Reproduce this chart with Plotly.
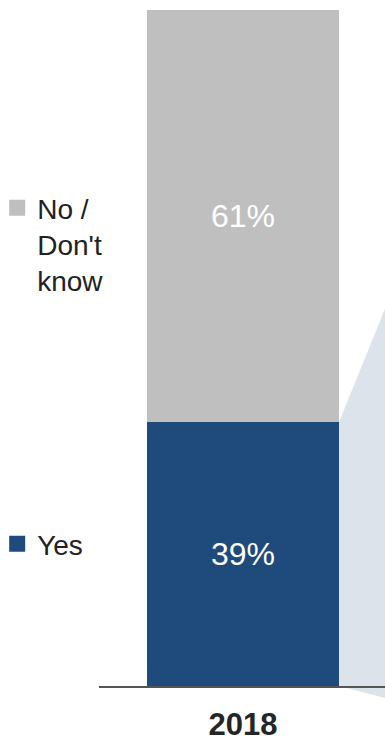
import plotly.graph_objects as go

# ---- data ----
years = ["2018"]
yes_vals = [39]
no_vals = [61]
yes_labels = ["39%"]
no_labels = ["61%"]
series_names = ["Yes", "No /<br>Don't<br>know"]

GRAY = "#bfbfbf"
BLUE = "#1f4a7c"
SHADE = "#dce3ea"
FONT = "Liberation Sans, Arial, sans-serif"

bar_width = 0.671
x_range = [-0.5035, 0.4965]

fig = go.Figure()
fig.add_trace(go.Bar(
    x=years, y=yes_vals, text=yes_labels, width=bar_width,
    marker=dict(color=BLUE, line=dict(width=0)),
    textposition="inside", insidetextanchor="middle",
    textfont=dict(color="white", size=32, family=FONT),
    showlegend=False, hoverinfo="skip",
))
fig.add_trace(go.Bar(
    x=years, y=no_vals, text=no_labels, width=bar_width,
    marker=dict(color=GRAY, line=dict(width=0)),
    textposition="inside", insidetextanchor="middle",
    textfont=dict(color="white", size=32, family=FONT),
    showlegend=False, hoverinfo="skip",
))
# legend entries (square markers)
fig.add_trace(go.Scatter(
    x=[None], y=[None], mode="markers", name=series_names[1],
    marker=dict(symbol="square", size=16, color=GRAY), legend="legend",
))
fig.add_trace(go.Scatter(
    x=[None], y=[None], mode="markers", name=series_names[0],
    marker=dict(symbol="square", size=16, color=BLUE), legend="legend2",
))

# shaded callout polygon starting at the bar's right edge / split point
bar_right = 0 + bar_width / 2
px = (bar_right - x_range[0]) / (x_range[1] - x_range[0])
py = yes_vals[0] / 100
path = f"M {px},{py} L 1,0.558 L 1,-0.0178 L {px},0 Z"
fig.add_shape(type="path", path=path, xref="paper", yref="paper",
              fillcolor=SHADE, line=dict(width=0), layer="below")

fig.update_layout(
    width=385, height=741,
    margin=dict(l=99, r=0, t=10, b=55, autoexpand=False),
    barmode="stack",
    paper_bgcolor="white", plot_bgcolor="rgba(0,0,0,0)",
    font=dict(family=FONT, color="#222222"),
    xaxis=dict(type="category", range=x_range, showgrid=False, zeroline=False,
               showline=True, linecolor="#555555", linewidth=1.5,
               tickvals=years, ticktext=[f"<b>{y}</b>" for y in years],
               tickfont=dict(size=31, color="#262626", family=FONT),
               ticks="", ticklabelstandoff=10, automargin=False),
    yaxis=dict(range=[0, 100], visible=False),
    legend=dict(x=-0.356, xanchor="left", y=0.744, yanchor="top",
                font=dict(size=28, color="#222222", family=FONT),
                valign="top", bgcolor="rgba(0,0,0,0)", itemclick=False),
    legend2=dict(x=-0.356, xanchor="left", y=0.210, yanchor="middle",
                 font=dict(size=28, color="#222222", family=FONT),
                 bgcolor="rgba(0,0,0,0)", itemclick=False),
)

fig.write_html(
    "out.html",
    config={"displayModeBar": False, "staticPlot": True},
    post_script="document.body.style.margin='0';document.body.style.overflow='hidden';",
)
